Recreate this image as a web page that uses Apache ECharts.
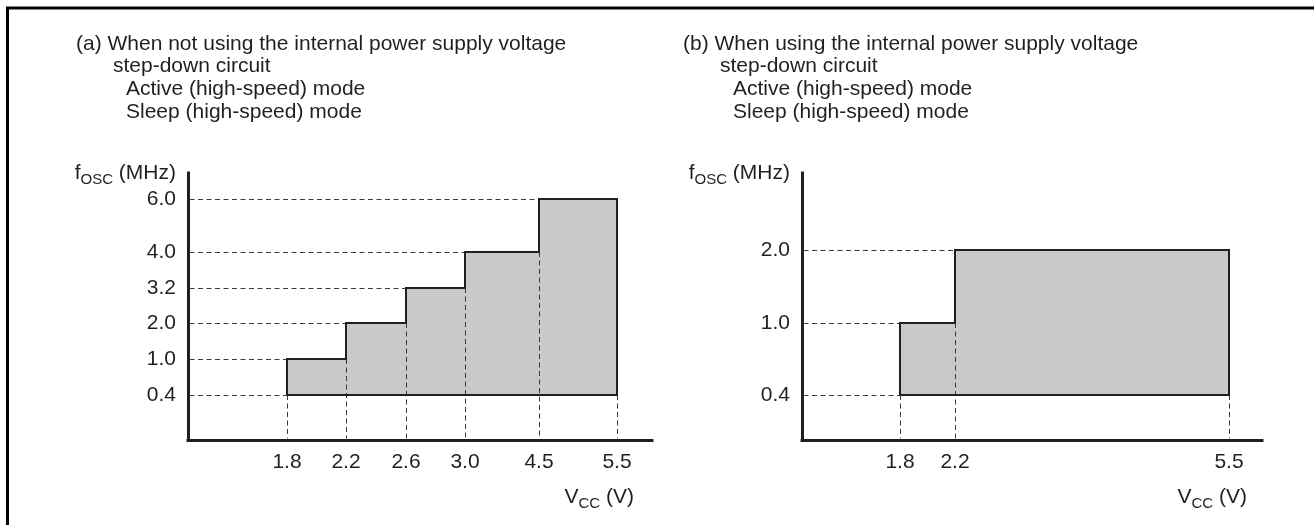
<!DOCTYPE html>
<html>
<head>
<meta charset="utf-8">
<script src="https://cdn.jsdelivr.net/npm/echarts@6/dist/echarts.min.js"></script>
<style>
html,body{margin:0;padding:0;background:#fff;}
#chart{width:1314px;height:525px;}
</style>
</head>
<body>
<div id="chart"></div>
<script>
// ---------- data ----------
// Panel (a): not using the internal step-down circuit
const xTicksA = [1.8, 2.2, 2.6, 3.0, 4.5, 5.5];
const yTicksA = [0.4, 1.0, 2.0, 3.2, 4.0, 6.0];
const vccStartA = [1.8, 2.2, 2.6, 3.0, 4.5];
const foscA = [1.0, 2.0, 3.2, 4.0, 6.0];
const vccMaxA = 5.5;
const foscMinA = 0.4;
// Panel (b): using the internal step-down circuit
const xTicksB = [1.8, 2.2, 5.5];
const yTicksB = [0.4, 1.0, 2.0];
const vccStartB = [1.8, 2.2];
const foscB = [1.0, 2.0];
const vccMaxB = 5.5;
const foscMinB = 0.4;

const headingA = ['(a) When not using the internal power supply voltage', 'step-down circuit', 'Active (high-speed) mode', 'Sleep (high-speed) mode'];
const headingB = ['(b) When using the internal power supply voltage', 'step-down circuit', 'Active (high-speed) mode', 'Sleep (high-speed) mode'];

// ---------- layout (schematic, non-linear axes) ----------
const layoutA = {left: 188, top: 173, width: 464, height: 267,
  xPix: [99, 158, 218, 277, 351, 429], yPix: [45, 81, 117, 152, 188, 241], nameGap: -18, headX: 76};
const layoutB = {left: 802, top: 173, width: 460, height: 267,
  xPix: [98, 153, 427], yPix: [45, 117, 190], nameGap: -15, headX: 683};

const INK = '#231f20';
const FONT = '"Liberation Sans", Arial, Helvetica, sans-serif';
const FS = 21;

function mapper(ticks, pix) {
  return function (v) {
    for (let i = 0; i < ticks.length - 1; i++) {
      if (v <= ticks[i + 1] || i === ticks.length - 2) {
        const t = (v - ticks[i]) / (ticks[i + 1] - ticks[i]);
        return pix[i] + t * (pix[i + 1] - pix[i]);
      }
    }
    return pix[0];
  };
}

function crisp(v) { return Math.round(v - 0.5) + 0.5; }

function buildPanel(idx, xTicks, yTicks, vccStart, fosc, vccMax, fMin, L) {
  const mx = mapper(xTicks, L.xPix);
  const my = mapper(yTicks, L.yPix);
  // outline vertices
  const verts = [[vccStart[0], fMin]];
  for (let i = 0; i < vccStart.length; i++) {
    const xe = i < vccStart.length - 1 ? vccStart[i + 1] : vccMax;
    verts.push([vccStart[i], fosc[i]]);
    verts.push([xe, fosc[i]]);
  }
  verts.push([vccMax, fMin]);
  verts.push([vccStart[0], fMin]);
  const mverts = verts.map(p => [mx(p[0]), my(p[1])]);

  // dashed guide lines: [x, y, vertical?]
  const guides = [[mx(vccStart[0]), my(fMin), 0]];
  for (let i = 0; i < vccStart.length; i++) {
    guides.push([mx(vccStart[i]), my(fosc[i]), 0]);
    guides.push([mx(vccStart[i]), my(i === 0 ? fMin : fosc[i - 1]), 1]);
  }
  guides.push([mx(vccMax), my(fMin), 1]);

  const labelFmt = (ticks, pix) => (v) => {
    let best = 0;
    for (let i = 0; i < pix.length; i++) if (Math.abs(pix[i] - v) < Math.abs(pix[best] - v)) best = i;
    return ticks[best].toFixed(1);
  };

  const grid = {left: L.left, top: L.top, width: L.width, height: L.height, containLabel: false};
  const xAxis = {
    type: 'value', gridIndex: idx, min: 0, max: L.width,
    axisLine: {show: true, onZero: false, lineStyle: {color: INK, width: 3, cap: 'square'}},
    axisTick: {show: false}, splitLine: {show: false},
    axisLabel: {customValues: xTicks.map(mx), formatter: labelFmt(xTicks, xTicks.map(mx)),
      margin: 12, fontSize: FS, color: INK, fontFamily: FONT},
    name: 'V{s|CC} (V)', nameLocation: 'end', nameGap: L.nameGap,
    nameTextStyle: {fontSize: FS, color: INK, fontFamily: FONT, align: 'right', verticalAlign: 'middle',
      padding: [114, 0, 0, 0],
      rich: {s: {fontSize: 15, color: INK, fontFamily: FONT, padding: [14, 0, 0, 0]}}}
  };
  const yAxis = {
    type: 'value', gridIndex: idx, min: 0, max: L.height,
    axisLine: {show: true, onZero: false, lineStyle: {color: INK, width: 3, cap: 'square'}},
    axisTick: {show: false}, splitLine: {show: false},
    axisLabel: {customValues: yTicks.map(my), formatter: labelFmt(yTicks, yTicks.map(my)),
      margin: 12, fontSize: FS, color: INK, fontFamily: FONT},
    name: 'f{s|OSC} (MHz)', nameLocation: 'end', nameGap: 0,
    nameTextStyle: {fontSize: FS, color: INK, fontFamily: FONT, align: 'right', verticalAlign: 'middle',
      padding: [0, 12, 0, 0],
      rich: {s: {fontSize: 15, color: INK, fontFamily: FONT, padding: [14, 0, 0, 0]}}}
  };

  const series = [
    {
      type: 'custom', xAxisIndex: idx, yAxisIndex: idx, z: 1, silent: true,
      data: [0],
      renderItem: function (params, api) {
        return {type: 'polygon', shape: {points: mverts.map(p => api.coord(p))},
          style: {fill: '#c8c9cb', stroke: null}};
      }
    },
    {
      type: 'custom', xAxisIndex: idx, yAxisIndex: idx, z: 2, silent: true,
      data: guides,
      renderItem: function (params, api) {
        const x = api.value(0), y = api.value(1), vert = api.value(2);
        let a, b;
        if (vert) {
          a = api.coord([x, y]); b = api.coord([x, 0]); b[1] -= 1.5;
          a[0] = b[0] = crisp(a[0]);
        } else {
          a = api.coord([0, y]); a[0] += 1.5; b = api.coord([x, y]);
          a[1] = b[1] = crisp(a[1]);
        }
        return {type: 'line', shape: {x1: a[0], y1: a[1], x2: b[0], y2: b[1]},
          style: {stroke: '#3a3a3a', lineWidth: 1, lineDash: [5, 3.5]}};
      }
    },
    {
      type: 'line', xAxisIndex: idx, yAxisIndex: idx, z: 3, silent: true,
      data: mverts, symbol: 'none', animation: false,
      lineStyle: {color: INK, width: 2, join: 'miter'}
    }
  ];

  const titles = [];
  const offs = [0, 37, 50, 50];
  const cy = [44, 66, 89, 112];
  for (let i = 0; i < 4; i++) {
    titles.push({text: (idx === 0 ? headingA : headingB)[i], left: L.headX + offs[i], top: cy[i] - 12, padding: 0,
      textStyle: {fontSize: FS, fontWeight: 'normal', color: INK, fontFamily: FONT, lineHeight: 24}});
  }
  return {grid, xAxis, yAxis, series, titles};
}

const pA = buildPanel(0, xTicksA, yTicksA, vccStartA, foscA, vccMaxA, foscMinA, layoutA);
const pB = buildPanel(1, xTicksB, yTicksB, vccStartB, foscB, vccMaxB, foscMinB, layoutB);

const chart = echarts.init(document.getElementById('chart'), null, {renderer: 'canvas'});
chart.setOption({
  animation: false,
  backgroundColor: '#fff',
  title: pA.titles.concat(pB.titles),
  grid: [pA.grid, pB.grid],
  xAxis: [pA.xAxis, pB.xAxis],
  yAxis: [pA.yAxis, pB.yAxis],
  series: pA.series.concat(pB.series),
  graphic: [{type: 'rect', silent: true, z: 100,
    shape: {x: 7.5, y: 8, width: 1400, height: 600},
    style: {fill: null, stroke: '#000', lineWidth: 3}}]
});
</script>
</body>
</html>
